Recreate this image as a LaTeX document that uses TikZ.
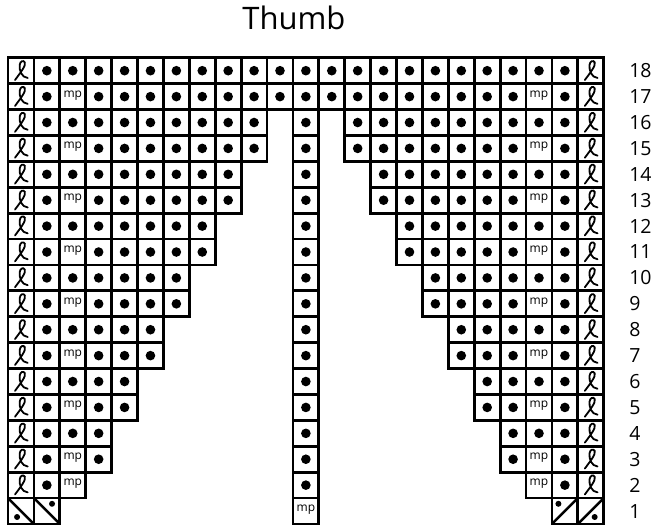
\documentclass[tikz,border=0pt]{standalone}
\usepackage{fontspec}
\setmainfont{Open Sans}
\usetikzlibrary{calc}

\tikzset{
  twist/.pic={% twisted stitch
    \draw[line width=1.8pt, line cap=round]
      (-0.23,-0.36) .. controls (0.0,-0.05) and (0.2,0.2) .. (0.15,0.32)
      .. controls (0.1,0.42) and (-0.03,0.38) .. (-0.05,0.22)
      .. controls (-0.07,0.02) and (0.02,-0.26) .. (0.26,-0.28);
  }
}

\begin{document}
\begin{tikzpicture}[x=25.9pt, y=25.9pt,
    cell/.style={draw, line width=2.8pt},
    knit/.style={fill=black},
    mp/.style={font=\fontsize{12}{14}\selectfont, inner sep=0pt},
    rownum/.style={font=\fontsize{19.5}{23}\selectfont, inner sep=0pt, anchor=west}]
  \useasboundingbox (-0.309,-0.193) rectangle (24.94,20.23);

  % title
  \node[font=\fontsize{31}{37}\selectfont, anchor=base, inner sep=0pt] (title) at (11.04,19.11) {Thumb};

  % rows 2-18, left and right blocks
  \foreach \r/\n in {2/3,3/4,4/4,5/5,6/5,7/6,8/6,9/7,10/7,11/8,12/8,13/9,14/9,15/10,16/10,17/11,18/11} {
    \foreach \c in {1,...,\n} {
      \draw[cell] (\c-1,\r-1) rectangle ++(1,1);
      \draw[cell] (24-\c,\r-1) rectangle ++(-1,1);
    }
    \foreach \c in {2,...,\n} {
      \pgfmathtruncatemacro\ismp{(\c==3)&&(mod(\r,2)==1||\r==2)}
      \ifnum\ismp=1
        \node[mp] (mpL\r) at (\c-0.5,\r-0.45) {mp};
        \node[mp] (mpR\r) at (23.5-\c,\r-0.45) {mp};
      \else
        \fill[knit] (\c-0.5,\r-0.5) circle (4.8pt);
        \fill[knit] (23.5-\c,\r-0.5) circle (4.8pt);
      \fi
    }
    \pic at (0.5,\r-0.5) {twist};
    \pic at (22.5,\r-0.5) {twist};
  }

  % centre column
  \foreach \r in {1,...,18}
    \draw[cell] (11,\r-1) rectangle ++(1,1);
  \foreach \r in {2,...,18}
    \fill[knit] (11.5,\r-0.5) circle (4.8pt);
  \node[mp] (mpC) at (11.5,0.55) {mp};

  % row 1 corners
  \draw[cell] (0,0) rectangle (1,1);
  \draw[cell] (1,0) rectangle (2,1);
  \draw[line width=2.4pt] (0,1) -- (1,0);
  \draw[line width=2.4pt] (1,1) -- (2,0);
  \fill[knit] (0.35,0.27) circle (3pt);
  \fill[knit] (1.7,0.78) circle (3pt);
  \draw[cell] (21,0) rectangle (22,1);
  \draw[cell] (22,0) rectangle (23,1);
  \draw[line width=2.4pt] (21,0) -- (22,1);
  \draw[line width=2.4pt] (22,0) -- (23,1);
  \fill[knit] (21.25,0.78) circle (3pt);
  \fill[knit] (22.65,0.27) circle (3pt);

  % row numbers
  \foreach \r in {1,...,18}
    \node[rownum] (row\r) at (23.98,\r-0.5) {\r};
\end{tikzpicture}
\end{document}
